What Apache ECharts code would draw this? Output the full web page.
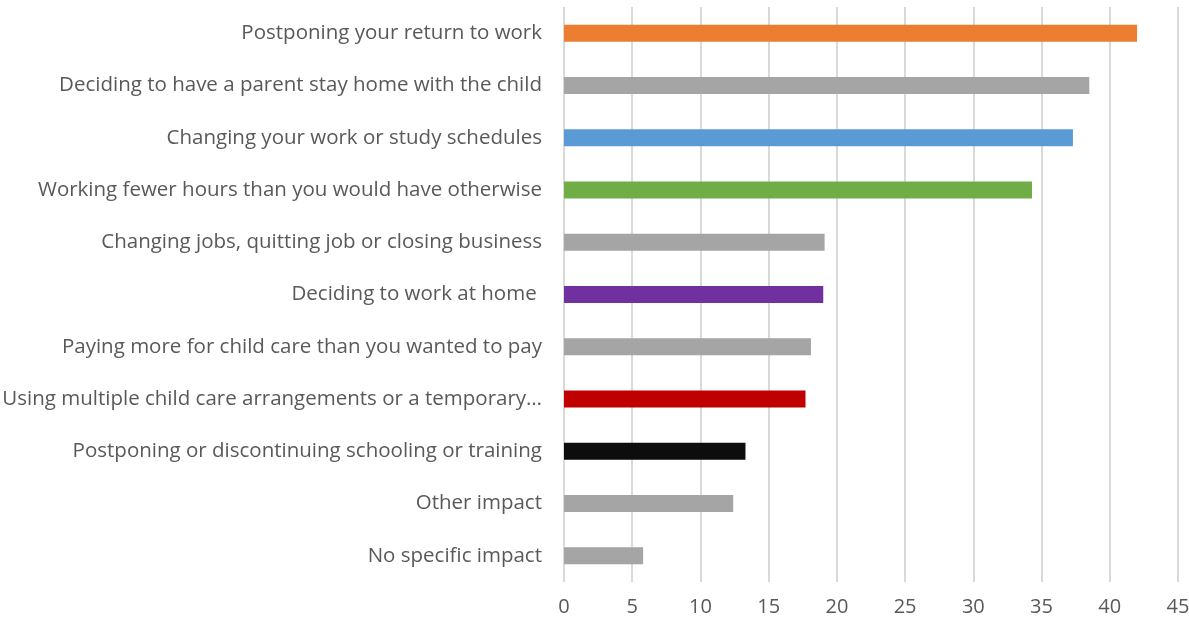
<!DOCTYPE html>
<html>
<head>
<meta charset="utf-8">
<script src="https://cdn.jsdelivr.net/npm/echarts@6/dist/echarts.min.js"></script>
<style>
  html, body { margin: 0; padding: 0; background: #fff; }
  #chart { width: 1189px; height: 623px; }
</style>
</head>
<body>
<div id="chart"></div>
<script>
// categories, top to bottom
const categories = [
  'Postponing your return to work',
  'Deciding to have a parent stay home with the child',
  'Changing your work or study schedules',
  'Working fewer hours than you would have otherwise',
  'Changing jobs, quitting job or closing business',
  'Deciding to work at home ',
  'Paying more for child care than you wanted to pay',
  'Using multiple child care arrangements or a temporary…',
  'Postponing or discontinuing schooling or training',
  'Other impact',
  'No specific impact'
];
const values = [42.0, 38.5, 37.3, 34.3, 19.1, 19.0, 18.1, 17.7, 13.3, 12.4, 5.8];
const barColors = ['#ED7D31', '#A5A5A5', '#5B9BD5', '#70AD47', '#A5A5A5', '#7030A0',
  '#A5A5A5', '#C00000', '#0D0D0D', '#A5A5A5', '#A5A5A5'];
const xTicks = [0, 5, 10, 15, 20, 25, 30, 35, 40, 45];

const chart = echarts.init(document.getElementById('chart'));

const options = {
  animation: false,
  textStyle: { fontFamily: 'Open Sans' },
  grid: {
    left: 564, right: 11, top: 7, bottom: 41,
    containLabel: false,
    outerBoundsMode: 'none'
  },
  xAxis: {
    type: 'value',
    min: xTicks[0],
    max: xTicks[xTicks.length - 1],
    interval: 5,
    axisLine: { show: false },
    axisTick: { show: false },
    splitLine: { lineStyle: { color: '#D9D9D9', width: 2 } },
    axisLabel: { color: '#595959', fontSize: 20, margin: 15 }
  },
  yAxis: {
    type: 'category',
    inverse: true,
    data: categories,
    axisLine: { show: false },
    axisTick: { show: false },
    axisLabel: { color: '#595959', fontSize: 20.5, margin: 22 }
  },
  series: [{
    type: 'bar',
    barWidth: 17,
    data: values.map((v, i) => ({ value: v, itemStyle: { color: barColors[i] } }))
  }]
};
chart.setOption(options);
</script>
</body>
</html>
